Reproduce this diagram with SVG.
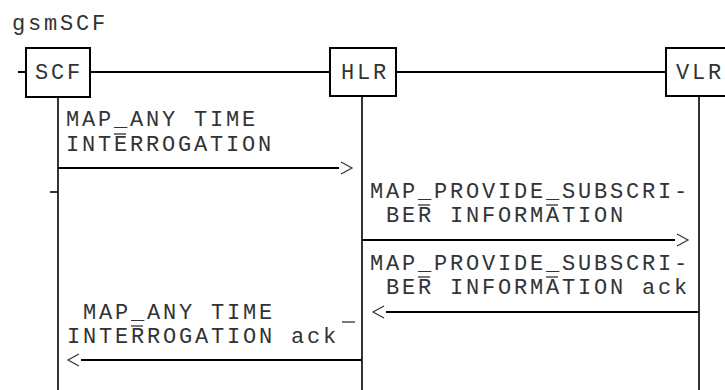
<svg xmlns="http://www.w3.org/2000/svg" width="725" height="390" viewBox="0 0 725 390">
<style>
text{font-family:"Liberation Mono","DejaVu Sans Mono",monospace;font-size:22px;letter-spacing:2.8px;fill:#333}
.box{fill:#fff;stroke:#000;stroke-width:2}
.life{stroke:#000;stroke-width:1.6;fill:none}
.msg{stroke:#000;stroke-width:2;fill:none}
.head{stroke:#333;stroke-width:1.2;fill:none}
.ov{stroke:#222;stroke-width:1.2}
</style>
<rect width="725" height="390" fill="#fff"/>
<text x="12" y="30">gsmSCF</text>
<g id="connectors">
<line class="msg" x1="18" y1="72" x2="26" y2="72"/>
<line class="msg" x1="90" y1="72" x2="330" y2="72"/>
<line class="msg" x1="396" y1="72" x2="666" y2="72"/>
<line class="life" x1="58" y1="97" x2="58" y2="390"/>
<line class="life" x1="50" y1="192" x2="58" y2="192"/>
<line class="life" x1="362" y1="96" x2="362" y2="390"/>
<line class="life" x1="699" y1="96" x2="699" y2="390"/>
<g id="m1">
<line class="msg" x1="58" y1="168" x2="339" y2="168"/>
<polyline class="head" points="341,162 352,168 341,174"/>
<text x="66" y="126">MAP_ANY TIME</text>
<text x="66" y="151">INTERROGATION</text>
<line class="ov" x1="114" y1="134" x2="126" y2="134"/>
</g>
<g id="m2">
<line class="msg" x1="362" y1="240" x2="675" y2="240"/>
<polyline class="head" points="677,234 688,240 677,246"/>
<text x="370" y="198">MAP_PROVIDE_SUBSCRI-</text>
<text x="386" y="222">BER INFORMATION</text>
<line class="ov" x1="418" y1="205" x2="430" y2="205"/>
<line class="ov" x1="546" y1="205" x2="558" y2="205"/>
</g>
<g id="m3">
<line class="msg" x1="699" y1="312" x2="386" y2="312"/>
<polyline class="head" points="384,306 373,312 384,318"/>
<text x="370" y="270">MAP_PROVIDE_SUBSCRI-</text>
<text x="386" y="294">BER INFORMATION ack</text>
<line class="ov" x1="418" y1="277" x2="430" y2="277"/>
<line class="ov" x1="546" y1="277" x2="558" y2="277"/>
</g>
<g id="m4">
<line class="msg" x1="362" y1="360" x2="81" y2="360"/>
<polyline class="head" points="79,354 68,360 79,366"/>
<text x="83" y="319">MAP_ANY TIME</text>
<text x="67" y="343">INTERROGATION ack</text>
<line class="ov" x1="131" y1="326" x2="143" y2="326"/>
<line class="ov" x1="342" y1="322" x2="355" y2="322"/>
</g>
</g>
<g id="SCF">
<rect class="box" x="26" y="48" width="64" height="49"/>
<text x="35" y="79">SCF</text>
</g>
<g id="HLR">
<rect class="box" x="330" y="48" width="66" height="48"/>
<text x="341" y="79">HLR</text>
</g>
<g id="VLR">
<rect class="box" x="666" y="48" width="80" height="48"/>
<text x="676" y="79">VLR</text>
</g>
</svg>
